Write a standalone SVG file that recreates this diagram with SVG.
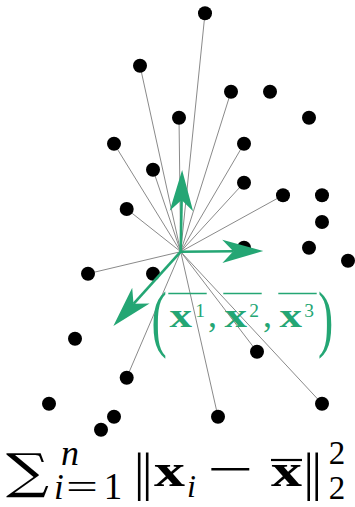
<svg xmlns="http://www.w3.org/2000/svg" width="355" height="507" viewBox="0 0 355 507">
<style>
.pt{fill:#000}
.ln{stroke:#8a8a8a;stroke-width:1;fill:none}
.ax{stroke:#24a674;stroke-width:2.6;fill:none}
.g{fill:#24a674}
.bold{font-weight:bold}
.it{font-style:italic}
.k{fill:#000}
</style>
<defs>
<marker id="head" markerUnits="userSpaceOnUse" orient="auto" overflow="visible" markerWidth="1" markerHeight="1" refX="0" refY="0">
<path d="M-11,-11.7 L30,0 L-11,11.7 L0,0 Z" fill="#24a674"/>
</marker>
</defs>
<g id="connectors">
<line class="ln" x1="180.7" y1="251.7" x2="205" y2="13.3"/>
<line class="ln" x1="180.7" y1="251.7" x2="140" y2="65.7"/>
<line class="ln" x1="180.7" y1="251.7" x2="231" y2="91.7"/>
<line class="ln" x1="180.7" y1="251.7" x2="179" y2="117.7"/>
<line class="ln" x1="180.7" y1="251.7" x2="114" y2="143.7"/>
<line class="ln" x1="180.7" y1="251.7" x2="244" y2="143.7"/>
<line class="ln" x1="180.7" y1="251.7" x2="153" y2="169.7"/>
<line class="ln" x1="180.7" y1="251.7" x2="244" y2="182.7"/>
<line class="ln" x1="180.7" y1="251.7" x2="283" y2="195.3"/>
<line class="ln" x1="180.7" y1="251.7" x2="126.7" y2="209"/>
<line class="ln" x1="180.7" y1="251.7" x2="88" y2="273.7"/>
<line class="ln" x1="180.7" y1="251.7" x2="257" y2="351.7"/>
<line class="ln" x1="180.7" y1="251.7" x2="126.7" y2="377.7"/>
<line class="ln" x1="180.7" y1="251.7" x2="322" y2="403.7"/>
<line class="ln" x1="180.7" y1="251.7" x2="218" y2="416.7"/>
</g>
<g id="points">
<g id="p1"><circle class="pt" cx="205" cy="13.3" r="7"/></g>
<g id="p2"><circle class="pt" cx="140" cy="65.7" r="7"/></g>
<g id="p3"><circle class="pt" cx="231" cy="91.7" r="7"/></g>
<g id="p4"><circle class="pt" cx="270" cy="91.7" r="7"/></g>
<g id="p5"><circle class="pt" cx="179" cy="117.7" r="7"/></g>
<g id="p6"><circle class="pt" cx="309" cy="117.7" r="7"/></g>
<g id="p7"><circle class="pt" cx="114" cy="143.7" r="7"/></g>
<g id="p8"><circle class="pt" cx="244" cy="143.7" r="7"/></g>
<g id="p9"><circle class="pt" cx="153" cy="169.7" r="7"/></g>
<g id="p10"><circle class="pt" cx="244" cy="182.7" r="7"/></g>
<g id="p11"><circle class="pt" cx="283" cy="195.3" r="7"/></g>
<g id="p12"><circle class="pt" cx="322" cy="195.3" r="7"/></g>
<g id="p13"><circle class="pt" cx="126.7" cy="209" r="7"/></g>
<g id="p14"><circle class="pt" cx="322" cy="222" r="7"/></g>
<g id="p15"><circle class="pt" cx="244" cy="247.7" r="7"/></g>
<g id="p16"><circle class="pt" cx="309" cy="247.7" r="7"/></g>
<g id="p17"><circle class="pt" cx="348" cy="260.7" r="7"/></g>
<g id="p18"><circle class="pt" cx="88" cy="273.7" r="7"/></g>
<g id="p19"><circle class="pt" cx="153" cy="273.7" r="7"/></g>
<g id="p20"><circle class="pt" cx="75" cy="338.7" r="7"/></g>
<g id="p21"><circle class="pt" cx="257" cy="351.7" r="7"/></g>
<g id="p22"><circle class="pt" cx="126.7" cy="377.7" r="7"/></g>
<g id="p23"><circle class="pt" cx="49" cy="403.7" r="7"/></g>
<g id="p24"><circle class="pt" cx="322" cy="403.7" r="7"/></g>
<g id="p25"><circle class="pt" cx="114" cy="416.7" r="7"/></g>
<g id="p26"><circle class="pt" cx="218" cy="416.7" r="7"/></g>
<g id="p27"><circle class="pt" cx="101" cy="429.7" r="7"/></g>
</g>
<g id="axes">
<line class="ax" x1="180.7" y1="251.7" x2="181.6" y2="200" marker-end="url(#head)"/>
<line class="ax" x1="180.7" y1="251.7" x2="233.3" y2="251.3" marker-end="url(#head)"/>
<line class="ax" x1="180.7" y1="251.7" x2="133.5" y2="303.8" marker-end="url(#head)"/>
</g>
<g id="mean-label" class="g" font-family="'Liberation Serif', 'Times New Roman', serif">
<text x="0" y="0" font-size="74" transform="translate(151.5,343) scale(0.62,1)">(</text>
<text x="169.5" y="327" font-size="34" class="bold" textLength="22.5" lengthAdjust="spacingAndGlyphs">x</text>
<text x="200" y="317" font-size="19.5" text-anchor="middle">1</text>
<text x="208" y="327" font-size="36">,</text>
<text x="224.5" y="327" font-size="34" class="bold" textLength="22.5" lengthAdjust="spacingAndGlyphs">x</text>
<text x="254" y="317" font-size="19.5" text-anchor="middle">2</text>
<text x="263" y="327" font-size="36">,</text>
<text x="279.5" y="327" font-size="34" class="bold" textLength="22.5" lengthAdjust="spacingAndGlyphs">x</text>
<text x="309" y="317" font-size="19.5" text-anchor="middle">3</text>
<text x="0" y="0" font-size="74" transform="translate(318,343) scale(0.62,1)">)</text>
<line x1="168.3" y1="293.5" x2="206.7" y2="293.5" stroke="#24a674" stroke-width="1.6"/>
<line x1="223.3" y1="293.5" x2="261.7" y2="293.5" stroke="#24a674" stroke-width="1.6"/>
<line x1="278.3" y1="293.5" x2="316.7" y2="293.5" stroke="#24a674" stroke-width="1.6"/>
</g>
<g id="formula" class="k" font-family="'Liberation Serif', 'Times New Roman', serif">
<text x="6" y="488" font-size="48" font-family="'DejaVu Serif', serif" textLength="43" lengthAdjust="spacingAndGlyphs">∑</text>
<text x="61" y="465" font-size="36" class="it">n</text>
<text x="54" y="499" font-size="35" class="it">i</text>
<text x="82" y="499" font-size="35" text-anchor="middle" textLength="32" lengthAdjust="spacingAndGlyphs">=</text>
<text x="113" y="499" font-size="37" text-anchor="middle">1</text>
<text x="134" y="490" font-size="52" letter-spacing="-2.4">||</text>
<text x="154" y="486" font-size="46" class="bold" textLength="31" lengthAdjust="spacingAndGlyphs">x</text>
<text x="187" y="497" font-size="32" class="it">i</text>
<text x="207" y="486" font-size="50" textLength="46" lengthAdjust="spacingAndGlyphs">−</text>
<line x1="271" y1="460" x2="302" y2="460" stroke="#000" stroke-width="2.2"/>
<text x="271" y="486" font-size="46" class="bold" textLength="31" lengthAdjust="spacingAndGlyphs">x</text>
<text x="303.5" y="490" font-size="52" letter-spacing="-2.4">||</text>
<text x="337" y="464" font-size="33" text-anchor="middle">2</text>
<text x="337" y="499" font-size="33" text-anchor="middle">2</text>
</g>
</svg>
